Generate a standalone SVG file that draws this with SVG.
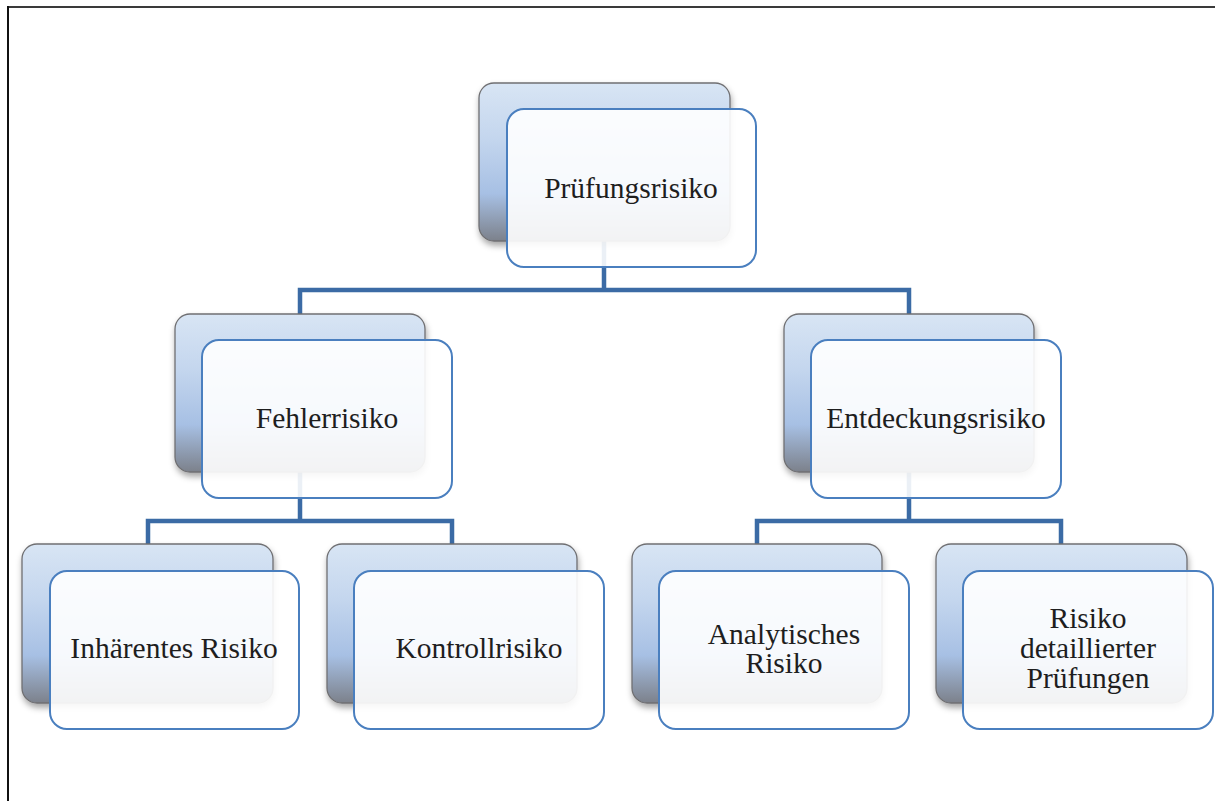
<svg xmlns="http://www.w3.org/2000/svg" width="1215" height="801" viewBox="0 0 1215 801">
  <defs>
    <linearGradient id="backFill" x1="0" y1="0" x2="0" y2="1">
      <stop offset="0" stop-color="#d8e5f4"/>
      <stop offset="0.35" stop-color="#c4d6ee"/>
      <stop offset="0.7" stop-color="#a7c0e4"/>
      <stop offset="1" stop-color="#7c818b"/>
    </linearGradient>
    <filter id="shadow" x="-10%" y="-10%" width="125%" height="130%">
      <feDropShadow dx="1" dy="4" stdDeviation="3" flood-color="#000" flood-opacity="0.35"/>
    </filter>
    <style>
      .back { fill: url(#backFill); stroke: #6f6f72; stroke-width: 1.3; filter: url(#shadow); }
      .front { fill: #ffffff; fill-opacity: 0.9; stroke: #4a7fbf; stroke-width: 2; }
      .label { font-family: "Liberation Serif", "Times New Roman", serif; font-size: 29.5px; fill: #1e1e1e; text-anchor: middle; }
      .conn { fill: none; stroke: #3b6ba5; stroke-width: 4.5; stroke-linejoin: miter; }
      .frame { stroke-width: 2; fill: none; }
    </style>
  </defs>

  <rect width="1215" height="801" fill="#ffffff"/>

  <!-- page frame -->
  <line class="frame" x1="7" y1="7" x2="1215" y2="7" stroke="#3a3a3a"/>
  <line class="frame" x1="8" y1="6" x2="8" y2="801" stroke="#111111"/>

  <!-- connectors -->
  <g id="connectors">
    <path class="conn" d="M604 241 V290 M300 314 V290 H909 V314"/>
    <path class="conn" d="M300 472 V521 M148 544 V521 H452 V544"/>
    <path class="conn" d="M909 472 V521 M757 544 V521 H1061 V544"/>
  </g>

  <!-- root -->
  <g id="node-pruefungsrisiko">
    <rect class="back" x="479" y="83" width="251" height="158" rx="15"/>
    <rect class="front" x="507" y="109" width="249" height="158" rx="17"/>
    <text class="label" x="631" y="198">Prüfungsrisiko</text>
  </g>

  <!-- second level -->
  <g id="node-fehlerrisiko">
    <rect class="back" x="175" y="314" width="250" height="158" rx="15"/>
    <rect class="front" x="202" y="340" width="250" height="158" rx="17"/>
    <text class="label" x="327" y="428">Fehlerrisiko</text>
  </g>

  <g id="node-entdeckungsrisiko">
    <rect class="back" x="784" y="314" width="250" height="158" rx="15"/>
    <rect class="front" x="811" y="340" width="250" height="158" rx="17"/>
    <text class="label" x="936" y="428">Entdeckungsrisiko</text>
  </g>

  <!-- third level -->
  <g id="node-inhaerentes-risiko">
    <rect class="back" x="22" y="544" width="251" height="159" rx="15"/>
    <rect class="front" x="50" y="571" width="249" height="158" rx="17"/>
    <text class="label" x="174" y="658">Inhärentes Risiko</text>
  </g>

  <g id="node-kontrollrisiko">
    <rect class="back" x="327" y="544" width="250" height="159" rx="15"/>
    <rect class="front" x="354" y="571" width="250" height="158" rx="17"/>
    <text class="label" x="479" y="658">Kontrollrisiko</text>
  </g>

  <g id="node-analytisches-risiko">
    <rect class="back" x="632" y="544" width="250" height="159" rx="15"/>
    <rect class="front" x="659" y="571" width="250" height="158" rx="17"/>
    <text class="label" x="784" y="644">Analytisches</text>
    <text class="label" x="784" y="673">Risiko</text>
  </g>

  <g id="node-risiko-detaillierter-pruefungen">
    <rect class="back" x="936" y="544" width="251" height="159" rx="15"/>
    <rect class="front" x="963" y="571" width="250" height="158" rx="17"/>
    <text class="label" x="1088" y="628">Risiko</text>
    <text class="label" x="1088" y="658">detaillierter</text>
    <text class="label" x="1088" y="688">Prüfungen</text>
  </g>
</svg>
